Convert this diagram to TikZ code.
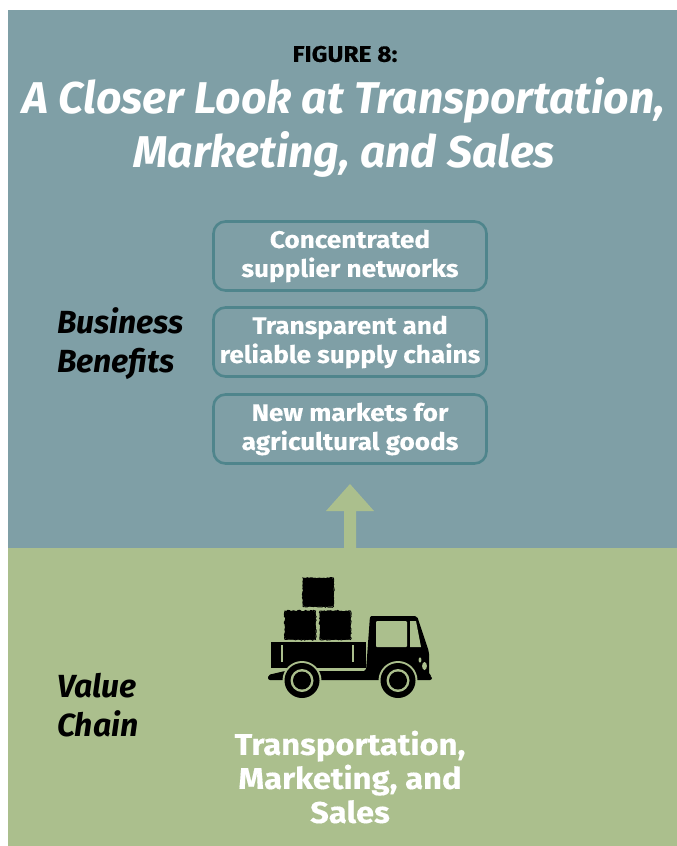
\documentclass[tikz,border=0pt]{standalone}
\usepackage{fontspec}
\setmainfont{Fira Sans}
\newfontfamily\widefont[FakeStretch=1.09,FakeBold=0.35]{Fira Sans}
\usetikzlibrary{decorations.pathmorphing}
\definecolor{bluebg}{HTML}{7F9FA6}
\definecolor{greenbg}{HTML}{ABBF8D}
\definecolor{boxline}{HTML}{4F858C}
\tikzset{
  benefit/.style={draw=boxline,line width=2.6pt,rounded corners=12pt,minimum width=273pt,minimum height=69pt,inner sep=0pt,align=center,text=white,font=\widefont\fontsize{24}{29}\selectfont\bfseries},
  sidelabel/.style={anchor=west,align=left,text=black,inner sep=0pt,font=\fontsize{32}{39}\selectfont\bfseries\itshape},
  titletext/.style={align=center,text=white,inner sep=0pt,font=\fontsize{44.5}{54}\selectfont\bfseries\itshape},
  bale/.style={draw=black,line width=.9pt,decorate,decoration={random steps,segment length=1.5pt,amplitude=.8pt}}
}
\begin{document}
\begin{tikzpicture}[x=1pt,y=-1pt]
\useasboundingbox (0,0) rectangle (677,846);
\fill[white] (0,0) rectangle (677,846);
\fill[bluebg] (8,10) rectangle (677,548);
\fill[greenbg] (8,548) rectangle (677,846);
\node[text=black,inner sep=0pt,font=\widefont\fontsize{22.5}{25}\selectfont\bfseries] (fig) at (345,54) {FIGURE 8:};
\node[titletext] (title) at (344,127) {A Closer Look at Transportation,\\Marketing, and Sales};
\node[benefit] (b1) at (350,256) {Concentrated\\supplier networks};
\node[benefit] (b2) at (350,342) {Transparent and\\reliable supply chains};
\node[benefit] (b3) at (350,429) {New markets for\\agricultural goods};
\node[sidelabel] (bb) at (57,344) {Business\\Benefits};
\node[sidelabel] (vc) at (57,705) {Value\\Chain};
\fill[greenbg] (344,548) -- (344,511) -- (326,511) -- (350,484) -- (374,511) -- (356,511) -- (356,548) -- cycle;
% truck
\foreach \xa/\ya in {303/578,285/611,320/611}{
  \fill[black,rounded corners=2pt] (\xa,\ya) rectangle ++(30.5,28.5);
  \draw[bale] (\xa,\ya) rectangle ++(30.5,28.5);
}
\fill[black] (271,642) rectangle (366,668);
\fill[greenbg] (281,645) rectangle (283.3,662);
\fill[greenbg] (352,645) rectangle (354.3,662);
\fill[black,rounded corners=2pt] (268,680) -- (268,675) -- (285,671) -- (366,671) -- (370,616) -- (417,616) -- (429,652) -- (429,675) -- (432,676) -- (432,680) -- cycle;
\fill[black,rounded corners=2pt] (370,616) rectangle (410,660);
\fill[greenbg,rounded corners=1pt] (376,621) rectangle (407,647);
\fill[greenbg] (410,621) -- (416,621) -- (421,647) -- (410,647) -- cycle;
\fill[greenbg] (420,660) ellipse (1.4 and 2.6);
\fill[greenbg] (424.5,666) ellipse (2.4 and 4);
\foreach \cx/\nm in {302/wa,398/wb}{
  \fill[greenbg] (\cx,680.5) circle (19.5);
  \fill[black] (\cx,680.5) circle (17.5);
  \fill[greenbg] (\cx,680.5) circle (11.5);
  \fill[black] (\cx,680.5) circle (9);
}
\node[text=white,align=center,inner sep=0pt,font=\widefont\fontsize{30}{34}\selectfont\bfseries] (vt) at (350,777) {Transportation,\\Marketing, and\\Sales};
\end{tikzpicture}
\end{document}
